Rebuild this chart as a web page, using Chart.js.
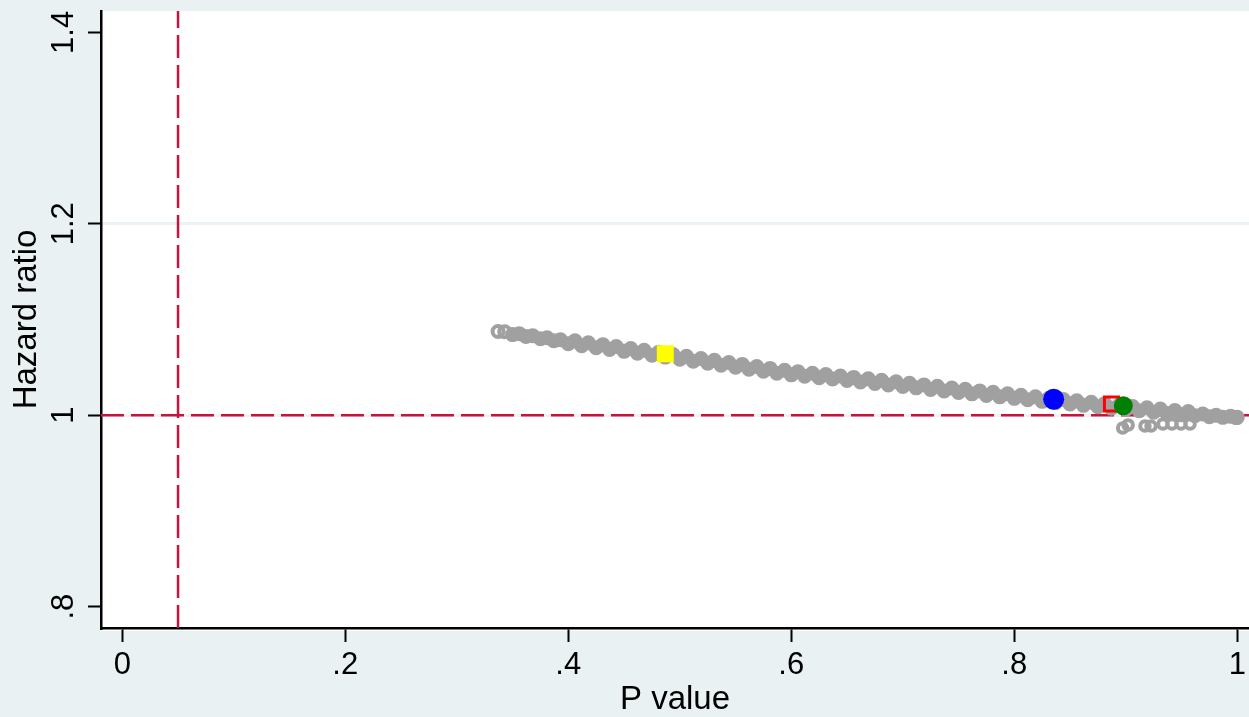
<!DOCTYPE html>
<html>
<head>
<meta charset="utf-8">
<script src="https://cdn.jsdelivr.net/npm/chart.js@4.4.0/dist/chart.umd.min.js"></script>
<style>
  html, body { margin: 0; padding: 0; background: #eaf1f3; }
  #wrap { width: 1249px; height: 717px; }
</style>
</head>
<body>
<div id="wrap"><canvas id="hrChart" width="1249" height="717"></canvas></div>
<script>
// --- data ---
const bandP = [
  0.337, 0.343, 0.350, 0.356, 0.362, 0.368, 0.375, 0.381, 0.387, 0.393,
  0.400, 0.406, 0.412, 0.418, 0.425, 0.431, 0.437, 0.443, 0.450, 0.456,
  0.462, 0.468, 0.475, 0.481, 0.487, 0.494, 0.500, 0.506, 0.512, 0.519,
  0.525, 0.531, 0.537, 0.544, 0.550, 0.556, 0.562, 0.569, 0.575, 0.581,
  0.587, 0.594, 0.600, 0.606, 0.612, 0.619, 0.625, 0.631, 0.637, 0.644,
  0.650, 0.656, 0.662, 0.669, 0.675, 0.681, 0.687, 0.694, 0.700, 0.706,
  0.712, 0.719, 0.725, 0.731, 0.737, 0.744, 0.750, 0.756, 0.762, 0.769,
  0.775, 0.781, 0.787, 0.794, 0.800, 0.806, 0.812, 0.819, 0.825, 0.831,
  0.837, 0.844, 0.850, 0.856, 0.862, 0.869, 0.875, 0.881, 0.887, 0.894,
  0.900, 0.906, 0.912, 0.919, 0.925, 0.931, 0.937, 0.944, 0.950, 0.956,
  0.962, 0.969, 0.975, 0.981, 0.987, 0.994, 0.999, 1.000
];
const bandHR = [
  1.0874, 1.0872, 1.0842, 1.0852, 1.0822, 1.0831, 1.0799, 1.0809, 1.0779, 1.0789,
  1.0747, 1.0777, 1.0726, 1.0757, 1.0706, 1.0737, 1.0687, 1.0718, 1.0667, 1.0697,
  1.0648, 1.0679, 1.0627, 1.0657, 1.0607, 1.0635, 1.0585, 1.0615, 1.0565, 1.0593,
  1.0543, 1.0573, 1.0523, 1.0551, 1.0501, 1.0531, 1.0481, 1.0509, 1.0459, 1.0489,
  1.0439, 1.0469, 1.0422, 1.0455, 1.0408, 1.0439, 1.0392, 1.0425, 1.0378, 1.0409,
  1.0362, 1.0395, 1.0348, 1.0380, 1.0332, 1.0365, 1.0317, 1.0349, 1.0301, 1.0333,
  1.0286, 1.0317, 1.0269, 1.0302, 1.0254, 1.0285, 1.0238, 1.0270, 1.0223, 1.0254,
  1.0207, 1.0239, 1.0192, 1.0223, 1.0176, 1.0208, 1.0161, 1.0192, 1.0145, 1.0178,
  1.0132, 1.0164, 1.0117, 1.0150, 1.0103, 1.0135, 1.0088, 1.0121, 1.0074, 1.0106,
  1.0059, 1.0092, 1.0046, 1.0078, 1.0031, 1.0064, 1.0017, 1.0050, 1.0004, 1.0038,
  0.9995, 1.0012, 0.9985, 1.0000, 0.9978, 0.9988, 0.9975, 0.9978
];
const outlierP  = [0.8972, 0.9021, 0.9172, 0.9226, 0.9333, 0.9414, 0.9495, 0.9576];
const outlierHR = [0.9867, 0.9899, 0.9888, 0.9888, 0.9909, 0.9909, 0.9909, 0.9909];

const yellowP = [0.487];  const yellowHR = [1.0642];
const blueP   = [0.8353]; const blueHR   = [1.0167];
const redP    = [0.8872]; const redHR    = [1.0117];
const greenP  = [0.8978]; const greenHR  = [1.0098];

const refP = 0.05;
const refHR = 1;

const xTicks = [0, 0.2, 0.4, 0.6, 0.8, 1];
const xTickLabels = ['0', '.2', '.4', '.6', '.8', '1'];
const yTicks = [0.8, 1, 1.2, 1.4];
const yTickLabels = ['.8', '1', '1.2', '1.4'];

const xMin = -0.0191, xMax = 1.0105;
const yMin = 0.7777, yMax = 1.4223;

const FONT = "'Liberation Sans', Arial, sans-serif";
const GREY = '#a0a0a0';
const pts = (xs, ys) => xs.map((x, i) => ({ x: x, y: ys[i] }));

const backdrop = {
  id: 'backdrop',
  beforeDraw(chart) {
    const { ctx, chartArea: a } = chart;
    ctx.save();
    ctx.fillStyle = '#eaf1f3';
    ctx.fillRect(0, 0, chart.width, chart.height);
    ctx.fillStyle = '#ffffff';
    ctx.fillRect(a.left, a.top, a.right - a.left, a.bottom - a.top + 3);
    ctx.restore();
  }
};

// y tick labels are rotated (Stata style), drawn by hand at the scale's pixels
const yLabels = {
  id: 'yLabels',
  afterDraw(chart) {
    const { ctx } = chart;
    const ys = chart.scales.y;
    ctx.save();
    ctx.fillStyle = '#000';
    ctx.font = '31px ' + FONT;
    ctx.textAlign = 'center';
    ctx.textBaseline = 'alphabetic';
    yTicks.forEach((v, i) => {
      ctx.save();
      ctx.translate(73, ys.getPixelForValue(v));
      ctx.rotate(-Math.PI / 2);
      ctx.fillText(yTickLabels[i], 0, 0);
      ctx.restore();
    });
    ctx.restore();
  }
};

const refStyle = {
  showLine: true, borderColor: '#c8143c', borderWidth: 2.5, borderDash: [23, 7],
  pointRadius: 0, order: 10
};

new Chart(document.getElementById('hrChart'), {
  type: 'scatter',
  data: {
    datasets: [
      Object.assign({ data: [{ x: refP, y: yMin }, { x: refP, y: yMax }] }, refStyle),
      Object.assign({ data: [{ x: xMin, y: refHR }, { x: xMax, y: refHR }] }, refStyle),
      {
        // hollow circles overlap into a solid band; only the two at the left end show their holes
        data: pts(bandP, bandHR), order: 5,
        backgroundColor: (c) => c.dataIndex < 2 ? 'rgba(0,0,0,0)' : GREY,
        borderColor: GREY, pointRadius: 5.5, borderWidth: 4
      },
      {
        data: pts(outlierP, outlierHR), order: 6,
        backgroundColor: 'rgba(0,0,0,0)', borderColor: GREY,
        pointRadius: 4.75, borderWidth: 4
      },
      {
        data: pts(yellowP, yellowHR), pointStyle: 'rect',
        backgroundColor: '#ffff00', borderColor: '#ffff00', borderWidth: 0,
        pointRadius: 12, order: 3
      },
      {
        data: pts(blueP, blueHR),
        backgroundColor: '#0000ff', borderColor: '#0000ff', borderWidth: 0,
        pointRadius: 10.5, order: 2
      },
      {
        data: pts(redP, redHR), pointStyle: 'rect',
        backgroundColor: 'rgba(0,0,0,0)', borderColor: '#ff0000', borderWidth: 3,
        pointRadius: 10, order: 1
      },
      {
        data: pts(greenP, greenHR),
        backgroundColor: '#008000', borderColor: '#008000', borderWidth: 0,
        pointRadius: 9.5, order: 0
      }
    ]
  },
  options: {
    responsive: false,
    animation: false,
    events: [],
    layout: { autoPadding: false, padding: { top: 11, left: 0, right: 0, bottom: 0 } },
    plugins: { legend: { display: false }, tooltip: { enabled: false } },
    scales: {
      x: {
        type: 'linear', min: xMin, max: xMax,
        afterBuildTicks: (s) => { s.ticks = xTicks.map(v => ({ value: v })); },
        afterFit: (s) => { s.height = 89; s.paddingLeft = 0; s.paddingRight = 0; },
        ticks: {
          color: '#000', padding: 5, maxRotation: 0,
          font: { family: FONT, size: 31 },
          callback: (v, i) => xTickLabels[i]
        },
        grid: { drawOnChartArea: false, tickLength: 14, tickColor: '#000', tickWidth: 2 },
        border: { display: true, color: '#000', width: 2.5 },
        title: {
          display: true, text: 'P value', color: '#000',
          font: { family: FONT, size: 33, lineHeight: 1 },
          padding: { top: 0, bottom: 1 }
        }
      },
      y: {
        type: 'linear', min: yMin, max: yMax,
        afterBuildTicks: (s) => { s.ticks = yTicks.map(v => ({ value: v })); },
        afterFit: (s) => { s.width = 101; s.paddingTop = 0; s.paddingBottom = 0; },
        ticks: { display: false },
        grid: {
          tickLength: 13, tickColor: '#000', tickWidth: 2, lineWidth: 3,
          color: (c) => (c.tick && (c.tick.value === 1 || c.tick.value === 1.2)) ? '#eaf2f3' : 'rgba(0,0,0,0)'
        },
        border: { display: true, color: '#000', width: 2.5 },
        title: {
          display: true, text: 'Hazard ratio', color: '#000',
          font: { family: FONT, size: 33, lineHeight: 1 },
          padding: { top: 10, bottom: 0 }
        }
      }
    }
  },
  plugins: [backdrop, yLabels]
});
</script>
</body>
</html>
